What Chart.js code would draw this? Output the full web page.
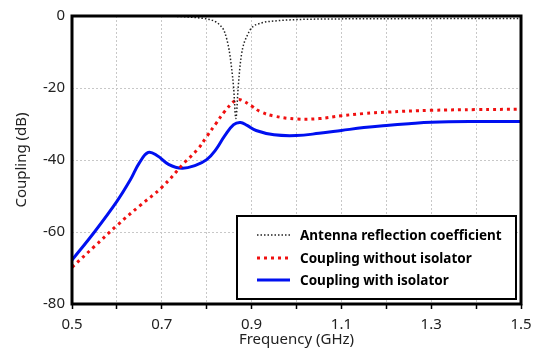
<!DOCTYPE html>
<html>
<head>
<meta charset="utf-8">
<script src="https://cdn.jsdelivr.net/npm/chart.js@4/dist/chart.umd.min.js"></script>
<style>
html, body { margin: 0; padding: 0; background: #fff; }
#c { display: block; }
</style>
</head>
<body>
<canvas id="c" width="539" height="352"></canvas>
<script>
// values (GHz / dB)
const reflFreq = [0.50, 0.70, 0.75, 0.78, 0.80, 0.82, 0.83, 0.84, 0.85, 0.855, 0.86, 0.865, 0.87, 0.875, 0.88, 0.89, 0.90, 0.92, 0.95, 1.00, 1.10, 1.20, 1.30, 1.40, 1.50];
const reflDb   = [0, -0.05, -0.2, -0.5, -0.8, -1.6, -2.6, -4.5, -9.5, -14, -20, -28.5, -20, -13, -9, -5.5, -3.3, -2.0, -1.4, -1.0, -0.8, -0.75, -0.7, -0.7, -0.7];

const noIsoFreq = [0.50, 0.55, 0.60, 0.65, 0.70, 0.75, 0.78, 0.80, 0.82, 0.84, 0.86, 0.87, 0.88, 0.90, 0.92, 0.95, 1.00, 1.05, 1.10, 1.15, 1.20, 1.30, 1.40, 1.50];
const noIsoDb   = [-69.8, -64.0, -58.2, -52.8, -47.6, -40.8, -37.0, -33.5, -30.0, -26.5, -23.8, -23.2, -23.5, -25.0, -26.6, -27.8, -28.6, -28.5, -27.7, -27.1, -26.7, -26.2, -26.0, -25.9];

const isoFreq = [0.50, 0.55, 0.60, 0.63, 0.65, 0.67, 0.69, 0.715, 0.745, 0.775, 0.80, 0.82, 0.84, 0.86, 0.875, 0.89, 0.91, 0.95, 1.00, 1.05, 1.10, 1.15, 1.20, 1.25, 1.30, 1.40, 1.50];
const isoDb   = [-67.8, -60.0, -51.5, -45.5, -40.8, -37.9, -38.8, -41.2, -42.3, -41.5, -39.9, -37.2, -33.3, -30.2, -29.6, -30.4, -31.8, -33.0, -33.2, -32.6, -31.8, -31.0, -30.4, -29.9, -29.5, -29.3, -29.3];

const seriesNames = ['Antenna reflection coefficient', 'Coupling without isolator', 'Coupling with isolator'];
const yTicks = [0, -20, -40, -60, -80];

const pts = (xs, ys) => xs.map((x, i) => ({ x: x, y: ys[i] }));

// thick black frame round the plot
const framePlugin = {
  id: 'frame',
  afterDatasetsDraw(chart) {
    const a = chart.chartArea, ctx = chart.ctx;
    ctx.save();
    ctx.strokeStyle = '#000';
    ctx.lineWidth = 3;
    ctx.strokeRect(a.left, a.top, a.right - a.left, a.bottom - a.top);
    ctx.restore();
  }
};

// boxed legend inside the plot
const boxLegend = {
  id: 'boxLegend',
  afterDraw(chart) {
    const ctx = chart.ctx;
    const bx = 237, by = 216, bw = 279, bh = 83;
    ctx.save();
    ctx.fillStyle = '#fff';
    ctx.fillRect(bx, by, bw, bh);
    ctx.strokeStyle = '#000';
    ctx.lineWidth = 2;
    ctx.strokeRect(bx, by, bw, bh);
    const rows = [235, 258, 280];
    chart.data.datasets.forEach((ds, i) => {
      const y = rows[i];
      ctx.strokeStyle = ds.borderColor;
      ctx.lineWidth = ds.borderWidth;
      ctx.setLineDash(ds.borderDash || []);
      ctx.beginPath();
      ctx.moveTo(257, y);
      ctx.lineTo(290, y);
      ctx.stroke();
      ctx.setLineDash([]);
      ctx.fillStyle = '#000';
      ctx.font = 'bold 13.5px "Noto Sans"';
      ctx.textBaseline = 'middle';
      ctx.fillText(ds.label, 300, y + 1);
    });
    ctx.restore();
  }
};

new Chart(document.getElementById('c'), {
  type: 'line',
  data: {
    datasets: [{
      label: seriesNames[0],
      data: pts(reflFreq, reflDb),
      borderColor: '#222',
      borderWidth: 1.5,
      borderDash: [1.5, 2],
      cubicInterpolationMode: 'monotone'
    }, {
      label: seriesNames[1],
      data: pts(noIsoFreq, noIsoDb),
      borderColor: '#f01010',
      borderWidth: 3,
      borderDash: [3, 4],
      tension: 0.4
    }, {
      label: seriesNames[2],
      data: pts(isoFreq, isoDb),
      borderColor: '#0010f0',
      borderWidth: 3,
      tension: 0.4
    }]
  },
  options: {
    responsive: false,
    animation: false,
    layout: { padding: { left: 0, right: 18, top: 13, bottom: 0 } },
    elements: { point: { radius: 0 } },
    plugins: { legend: { display: false }, tooltip: { enabled: false } },
    scales: {
      x: {
        type: 'linear',
        min: 0.5,
        max: 1.5,
        afterFit(s) { s.height = 48; },
        ticks: {
          stepSize: 0.1,
          autoSkip: false,
          maxRotation: 0,
          padding: 7,
          color: '#222',
          font: { family: '"Noto Sans"', size: 15 },
          callback: (v) => {
            const r = Math.round(v * 10);
            return r % 2 === 1 ? (r / 10).toFixed(1) : '';
          }
        },
        grid: {
          color: '#c8c8c8',
          lineWidth: 1,
          tickColor: '#000',
          tickLength: 5,
          tickWidth: 1.5,
          tickBorderDash: []
        },
        border: { display: false, dash: [2, 2] },
        title: {
          display: true,
          text: 'Frequency (GHz)',
          color: '#222',
          font: { family: '"Noto Sans"', size: 15 },
          padding: { top: 0, bottom: 3 }
        }
      },
      y: {
        min: -80,
        max: 0,
        afterFit(s) { s.width = 72; },
        afterBuildTicks(s) { s.ticks = yTicks.map(v => ({ value: v })); },
        ticks: {
          padding: 7,
          color: '#222',
          font: { family: '"Noto Sans"', size: 15 }
        },
        grid: { color: '#c8c8c8', lineWidth: 1, drawTicks: false },
        border: { display: false, dash: [2, 2] },
        title: {
          display: true,
          text: 'Coupling (dB)',
          color: '#222',
          font: { family: '"Noto Sans"', size: 15 },
          padding: { top: 13, bottom: 0 }
        }
      }
    }
  },
  plugins: [framePlugin, boxLegend]
});
</script>
</body>
</html>
